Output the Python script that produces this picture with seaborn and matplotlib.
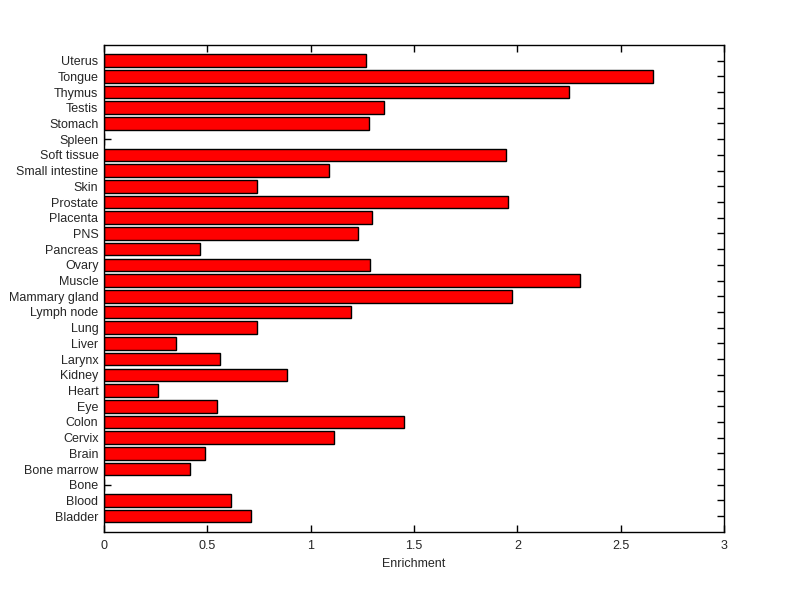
import matplotlib
matplotlib.use("Agg")
import matplotlib.pyplot as plt
import seaborn as sns
import pandas as pd

tissues = ["Uterus", "Tongue", "Thymus", "Testis", "Stomach", "Spleen", "Soft tissue",
           "Small intestine", "Skin", "Prostate", "Placenta", "PNS", "Pancreas", "Ovary",
           "Muscle", "Mammary gland", "Lymph node", "Lung", "Liver", "Larynx", "Kidney",
           "Heart", "Eye", "Colon", "Cervix", "Brain", "Bone marrow", "Bone", "Blood", "Bladder"]
enrichment = [1.27, 2.655, 2.25, 1.355, 1.28, 0.0, 1.945,
              1.09, 0.74, 1.955, 1.295, 1.23, 0.465, 1.285,
              2.305, 1.975, 1.195, 0.74, 0.35, 0.56, 0.885,
              0.26, 0.545, 1.45, 1.115, 0.49, 0.415, 0.0, 0.615, 0.71]

df = pd.DataFrame({"Tissue": tissues, "Enrichment": enrichment})

sns.set_style("white")
plt.rcParams['font.family'] = ['Liberation Sans', 'DejaVu Sans']

fig = plt.figure(figsize=(8, 5.99), dpi=100)
ax = fig.add_axes([0.13, 0.112, 0.775, 0.813])
sns.barplot(data=df, x="Enrichment", y="Tissue", order=tissues, orient="h",
            color="#ff0000", saturation=1, edgecolor="black", linewidth=1,
            width=0.8, ax=ax)
ax.set_xlim(0, 3)
ax.set_ylim(30, -1)
ax.set_xticks([0, 0.5, 1, 1.5, 2, 2.5, 3])
ax.set_xticklabels(["0", "0.5", "1", "1.5", "2", "2.5", "3"])
ax.set_ylabel("")
ax.set_xlabel("Enrichment", fontsize=9)
for s in ax.spines.values():
    s.set_visible(True)
    s.set_color("black")
    s.set_linewidth(1)
ax.tick_params(axis="both", direction="in", length=5, width=1, color="black",
               labelsize=9, top=True, right=True, bottom=True, left=True)
ax.tick_params(axis="x", pad=6)
ax.tick_params(axis="y", pad=4)
fig.savefig("out.png", dpi=100, facecolor="white")
